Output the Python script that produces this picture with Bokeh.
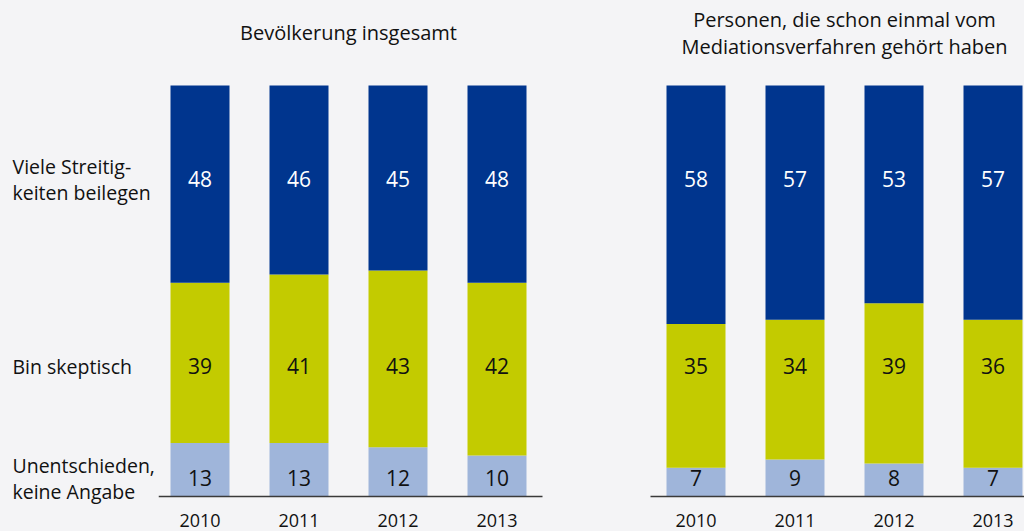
from bokeh.plotting import figure
from bokeh.layouts import row
from bokeh.models import Range1d, ColumnDataSource
from bokeh.core.properties import value
from bokeh.embed import file_html
from bokeh.resources import INLINE

# ---- data ----
YEARS = [2010, 2011, 2012, 2013]
SERIES = ["Unentschieden, keine Angabe", "Bin skeptisch", "Viele Streitigkeiten beilegen"]
LEFT_TITLE = "Bevölkerung insgesamt"
RIGHT_TITLE = "Personen, die schon einmal vom\nMediationsverfahren gehört haben"
ROW_LABELS = ["Unentschieden,\nkeine Angabe", "Bin skeptisch", "Viele Streitig-\nkeiten beilegen"]

left_unent = [13, 13, 12, 10]
left_skept = [39, 41, 43, 42]
left_beil = [48, 46, 45, 48]

right_unent = [7, 9, 8, 7]
right_skept = [35, 34, 39, 36]
right_beil = [58, 57, 53, 57]

# ---- style / layout ----
COLORS = ["#9fb5da", "#c3cb00", "#00358e"]
TEXT_COLORS = ["#111111", "#111111", "#ffffff"]
ROW_Y = [4.4, 31.7, 77.2]          # label rows (percent scale)
TITLE_Y = 112.8
YEAR_LABEL_Y = -5.9
BG = "#f4f4f6"
FONT = "Open Sans"
H = 531
TOP = 85          # px above the 100 % line
BOTTOM = 35       # px below the 0 % line
PX = (H - TOP - BOTTOM) / 100.0
Y_RANGE = (-BOTTOM / PX, 100 + TOP / PX)
PITCH = 99.0      # px per year
BAR_W = 0.596
BG_STYLE = {"background-color": BG}


def base_fig(width, x0):
    p = figure(width=width, height=H,
               x_range=Range1d(x0, x0 + width / PITCH), y_range=Range1d(*Y_RANGE),
               output_backend="svg", toolbar_location=None,
               min_border=0, x_axis_location=None, y_axis_location=None,
               styles=BG_STYLE)
    p.background_fill_color = BG
    p.border_fill_color = BG
    p.outline_line_color = None
    p.grid.visible = False
    return p


def make_fig(width, x0, axis_start, axis_end, unent, skept, beil, title):
    p = base_fig(width, x0)
    src = ColumnDataSource(dict(x=YEARS, u=unent, s=skept, b=beil))
    p.vbar_stack(["u", "s", "b"], x="x", width=BAR_W, source=src,
                 color=COLORS, line_color=None)

    for i, vals in enumerate([unent, skept, beil]):
        tsrc = ColumnDataSource(dict(x=YEARS, y=[ROW_Y[i]] * len(YEARS),
                                     t=[str(v) for v in vals]))
        p.text(x="x", y="y", text="t", source=tsrc, text_align="center",
               text_baseline="middle", text_font=value(FONT),
               text_font_size="21px", text_color=TEXT_COLORS[i])

    # baseline (category axis line) and year labels
    p.segment(x0=[axis_start], y0=[0], x1=[axis_end], y1=[0],
              line_color="#3a3a3a", line_width=1.4)
    ysrc = ColumnDataSource(dict(x=YEARS, y=[YEAR_LABEL_Y] * len(YEARS),
                                 t=[str(y) for y in YEARS]))
    p.text(x="x", y="y", text="t", source=ysrc, text_align="center",
           text_baseline="middle", text_font=value(FONT), text_font_size="18px",
           text_color="#111111")

    tsrc = ColumnDataSource(dict(x=[sum(YEARS) / len(YEARS)], y=[TITLE_Y], t=[title]))
    p.text(x="x", y="y", text="t", source=tsrc, text_align="center",
           text_baseline="middle", text_font=value(FONT), text_font_size="20px",
           text_color="#111111", text_line_height=1.0)
    return p


# label column
lab = figure(width=158, height=H, x_range=Range1d(0, 158), y_range=Range1d(*Y_RANGE),
             output_backend="svg", toolbar_location=None, min_border=0,
             x_axis_location=None, y_axis_location=None, styles=BG_STYLE)
lab.background_fill_color = BG
lab.border_fill_color = BG
lab.outline_line_color = None
lab.grid.visible = False
lsrc = ColumnDataSource(dict(x=[12] * 3, y=ROW_Y, t=ROW_LABELS))
lab.text(x="x", y="y", text="t", source=lsrc, text_align="left",
         text_baseline="middle", text_font=value(FONT), text_font_size="19.5px",
         text_color="#111111", text_line_height=0.965)

# left panel: page x 158..600, axis line 158..542
left = make_fig(442, 2010 - 41.5 / PITCH, 2010 - 41.5 / PITCH, 2013 + 45.5 / PITCH,
                left_unent, left_skept, left_beil, LEFT_TITLE)
# right panel: page x 600..1024, axis line 650..1024
r0 = 2010 - 95.5 / PITCH
right = make_fig(424, r0, 2010 - 45.5 / PITCH, r0 + 424 / PITCH,
                 right_unent, right_skept, right_beil, RIGHT_TITLE)

layout = row(lab, left, right, spacing=0, styles=BG_STYLE)
html = file_html(layout, INLINE)
html = html.replace("<body>", '<body style="background-color:#f4f4f6;">', 1)
open("out.html", "w").write(html)
